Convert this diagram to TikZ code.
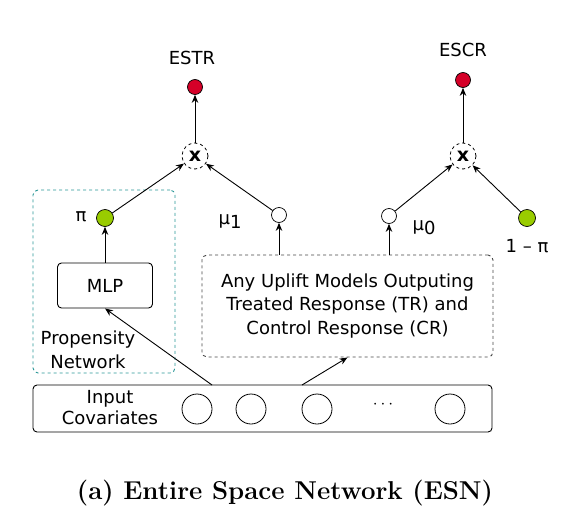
\documentclass[tikz,border=0pt]{standalone}
\usepackage{fontspec}
\usepackage{graphicx}
\setsansfont{DejaVu Sans}
\usetikzlibrary{arrows.meta}
\definecolor{dotred}{RGB}{213,0,40}
\definecolor{dotgreen}{RGB}{153,204,0}
\definecolor{tealdash}{RGB}{40,150,150}
\definecolor{graydash}{RGB}{70,70,70}
\begin{document}
\begin{tikzpicture}[x=1pt,y=-1pt,
  font=\sffamily\fontsize{18}{23.5}\selectfont,
  line width=0.9pt,
  arr/.style={-{Stealth[length=8pt,width=6.5pt]}},
  dotbase/.style={circle,draw,line width=0.7pt,inner sep=0pt,minimum size=15pt},
  reddot/.style={dotbase,fill=dotred},
  greendot/.style={dotbase,fill=dotgreen,minimum size=17pt},
  whitedot/.style={dotbase,fill=white},
  mult/.style={circle,draw,dashed,line width=0.8pt,inner sep=0pt,minimum size=26pt,font=\sffamily\bfseries\fontsize{19}{19}\selectfont},
  solidbox/.style={draw,rounded corners=4pt,line width=0.9pt},
  dashbox/.style={draw=graydash,dashed,rounded corners=5pt,line width=0.9pt},
  propbox/.style={draw=tealdash,dashed,rounded corners=5pt,line width=0.9pt},
  incirc/.style={circle,draw,line width=0.8pt,inner sep=0pt,minimum size=30pt},
  lbl/.style={inner sep=1pt}
]
\useasboundingbox (0,0) rectangle (564,522);

% propensity network frame
\node[propbox,minimum width=142pt,minimum height=183pt] (prop) at (104,281.5) {};
\node[lbl,align=center] (proplbl) at (88,350) {Propensity\\Network};

% top outputs
\node[reddot] (r1) at (195,87) {};
\node[lbl] (estr) at (192,58) {ESTR};
\node[mult] (m1) at (195,156) {x};
\node[reddot] (r2) at (463,80) {};
\node[lbl] (escr) at (463,50) {ESCR};
\node[mult] (m2) at (463,156) {x};

% intermediate dots
\node[greendot] (pi) at (105,218) {};
\node[lbl] (pil) at (81,217) {π};
\node[whitedot] (mu1) at (279,215) {};
\node[lbl] (mu1l) at (230,222) {μ\raisebox{-4pt}{1}};
\node[whitedot] (mu0) at (389,216) {};
\node[lbl] (mu0l) at (424,228) {μ\raisebox{-4pt}{0}};
\node[greendot] (omp) at (527,218) {};
\node[lbl] (ompl) at (527,246) {1 – π};

% boxes
\node[solidbox,minimum width=95pt,minimum height=45pt] (mlp) at (105,285.5) {MLP};
\node[dashbox,minimum width=291pt,minimum height=102pt,align=center] (up) at (347.5,306)
  {Any Uplift Models Outputing\\Treated Response (TR) and\\Control Response (CR)};
\node[solidbox,minimum width=459pt,minimum height=47pt] (in) at (262.5,408.5) {};
\node[lbl,align=center,font=\sffamily\fontsize{18}{21}\selectfont] (inlbl) at (110,408) {Input\\Covariates};
\node[incirc] (c1) at (197,409) {};
\node[incirc] (c2) at (251,409) {};
\node[incirc] (c3) at (317,409) {};
\node[lbl] (cdots) at (383,405) {$\cdots$};
\node[incirc] (c4) at (450,409) {};

\coordinate (inA) at (212,385);
\coordinate (inB) at (302,385);

% connectors
\draw[arr] (inA) -- (mlp.south);
\draw[arr] (inB) -- (up.south);
\draw[arr] (mlp) -- (pi);
\draw[arr] (up.north -| mu1) -- (mu1);
\draw[arr] (up.north -| mu0) -- (mu0);
\draw[arr] (pi) -- (m1);
\draw[arr] (mu1) -- (m1);
\draw[arr] (m1) -- (r1);
\draw[arr] (mu0) -- (m2);
\draw[arr] (omp) -- (m2);
\draw[arr] (m2) -- (r2);

% caption
\node[inner sep=0pt] (cap) at (285,493) {\resizebox{416pt}{!}{\rmfamily\bfseries\fontsize{22}{26}\selectfont (a) Entire Space Network (ESN)}};
\end{tikzpicture}
\end{document}
